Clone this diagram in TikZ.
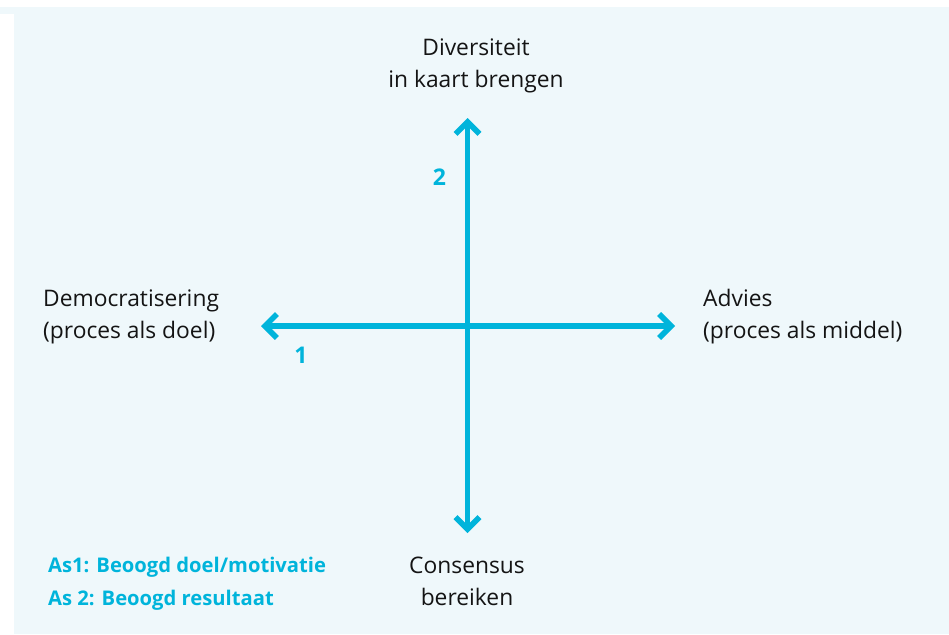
\documentclass[tikz,border=0pt]{standalone}
\usepackage{fontspec}
\setmainfont{Open Sans}
\usetikzlibrary{arrows.meta}
\definecolor{asblauw}{HTML}{00B4DB}
\definecolor{vlak}{HTML}{EFF8FB}
\definecolor{tekst}{HTML}{141414}

\begin{document}
\begin{tikzpicture}[x=1pt,y=-1pt,>={Straight Barb[length=12pt,width=24pt]},
	label/.style={text=tekst,inner sep=0pt,font=\fontsize{22.8}{32}\selectfont},
	nummer/.style={text=asblauw,inner sep=0pt,font=\fontsize{23}{28}\bfseries}]
	\def\midx{467.5}
	\def\midy{326}

	% achtergrond
	\useasboundingbox (0,0) rectangle (949,634);
	\fill[vlak] (14,7) rectangle (949,634);
	\fill[vlak] (0,7) rectangle (14,14);

	% assen
	\coordinate (links) at (261,\midy);
	\coordinate (rechts) at (675,\midy);
	\coordinate (boven) at (\midx,118);
	\coordinate (onder) at (\midx,533);
	\draw[asblauw,line width=5.5pt,<->] (links) -- (rechts);
	\draw[asblauw,line width=5.5pt,<->] (onder) -- (boven);

	% polen (base = laatste regel)
	\node[label,anchor=base,align=center] (divers) at (476,87) {Diversiteit\\in kaart brengen};
	\node[label,anchor=base,align=center] (consensus) at (467,605) {Consensus\\bereiken};
	\node[label,anchor=base west,align=left] (demo) at (43,338) {Democratisering\\(proces als doel)};
	\node[label,anchor=base west,align=left] (advies) at (703,338) {Advies\\(proces als middel)};

	% nummers
	\node[nummer,anchor=base] (een) at (301,363) {1};
	\node[nummer,anchor=base] (twee) at (439.5,185) {2};

	% legenda
	\node[text=asblauw,inner sep=0pt,anchor=base west,align=left,font=\fontsize{20.2}{33}\bfseries] (legenda) at (48,605) {As1: Beoogd doel/motivatie\\As 2: Beoogd resultaat};
\end{tikzpicture}
\end{document}
